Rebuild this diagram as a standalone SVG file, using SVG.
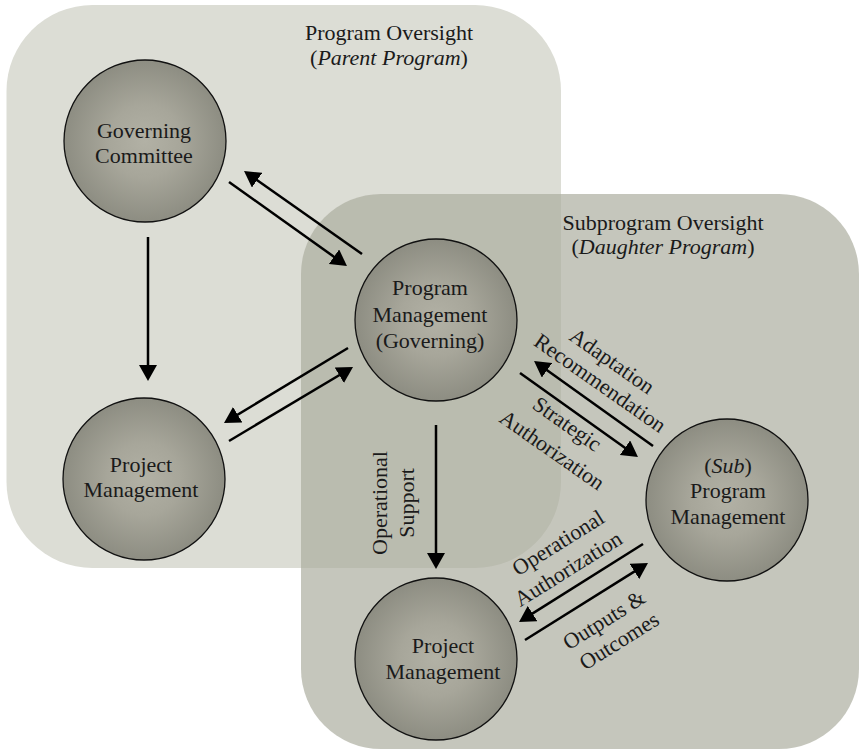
<svg xmlns="http://www.w3.org/2000/svg" width="861" height="752" viewBox="0 0 861 752">
  <style>
    .region-parent { fill: #dcddd5; }
    .region-child { fill: #abac9e; fill-opacity: 0.69; }
    .node { fill: url(#nodeShade); stroke: #111; stroke-width: 1.3; }
    .lbl { font-family: "Liberation Serif", "Times New Roman", serif; font-size: 22px; fill: #1a1a1a; text-anchor: middle; }
    .it { font-style: italic; }
    .conn line { stroke: #000; stroke-width: 2.5; marker-end: url(#head); }
  </style>
  <defs>
    <radialGradient id="nodeShade" cx="50%" cy="50%" r="50%">
      <stop offset="0" stop-color="#b2b1a5"/>
      <stop offset="0.45" stop-color="#a7a69a"/>
      <stop offset="1" stop-color="#8d8d82"/>
    </radialGradient>
    <marker id="head" markerUnits="userSpaceOnUse" viewBox="0 0 16 18" markerWidth="16" markerHeight="18" refX="12" refY="9" orient="auto">
      <path d="M0,0 L16,9 L0,18 Z" fill="#000"/>
    </marker>
  </defs>

  <!-- oversight regions -->
  <g id="parent-program">
    <rect class="region-parent" x="6.5" y="5" width="554.5" height="563" rx="86" ry="86"/>
    <text class="lbl" x="389" y="40">Program Oversight</text>
    <text class="lbl" x="389" y="65">(<tspan class="it">Parent Program</tspan>)</text>
  </g>
  <g id="daughter-program">
    <rect class="region-child" x="301" y="194" width="558" height="555" rx="80" ry="80"/>
    <text class="lbl" x="663" y="230">Subprogram Oversight</text>
    <text class="lbl" x="663" y="254">(<tspan class="it">Daughter Program</tspan>)</text>
  </g>

  <!-- connectors -->
  <g id="connectors" class="conn">
    <line x1="148" y1="237" x2="148" y2="377"/>
    <line x1="436" y1="425" x2="436" y2="565"/>
    <line x1="229" y1="182" x2="343.7" y2="263.7"/>
    <line x1="362" y1="254" x2="247.3" y2="173.3"/>
    <line x1="348" y1="348" x2="227.4" y2="420.9"/>
    <line x1="229" y1="441" x2="349.6" y2="369"/>
    <line x1="653" y1="446" x2="537.3" y2="363.3"/>
    <line x1="520" y1="373" x2="634.7" y2="454.7"/>
    <line x1="643" y1="544" x2="522.4" y2="619.9"/>
    <line x1="525" y1="640" x2="644.6" y2="565.1"/>
  </g>

  <!-- connector labels -->
  <g id="connector-labels">
    <g transform="translate(387,503) rotate(-90)">
      <text class="lbl" x="0" y="0">Operational</text>
      <text class="lbl" x="0" y="27">Support</text>
    </g>
    <text class="lbl" transform="translate(608,367) rotate(35)">Adaptation</text>
    <text class="lbl" transform="translate(596,389) rotate(35)">Recommendation</text>
    <text class="lbl" transform="translate(563,430) rotate(35)">Strategic</text>
    <text class="lbl" transform="translate(548,456) rotate(35)">Authorization</text>
    <text class="lbl" transform="translate(562,549) rotate(-32)">Operational</text>
    <text class="lbl" transform="translate(572,575) rotate(-32)">Authorization</text>
    <text class="lbl" transform="translate(608,626) rotate(-32)">Outputs &amp;</text>
    <text class="lbl" transform="translate(623,647) rotate(-32)">Outcomes</text>
  </g>

  <!-- nodes -->
  <g id="governing-committee">
    <circle class="node" cx="145" cy="141" r="81"/>
    <text class="lbl" x="144" y="138">Governing</text>
    <text class="lbl" x="144" y="163">Committee</text>
  </g>
  <g id="project-management-parent">
    <circle class="node" cx="144" cy="479" r="81"/>
    <text class="lbl" x="141" y="472">Project</text>
    <text class="lbl" x="141" y="497">Management</text>
  </g>
  <g id="program-management-governing">
    <circle class="node" cx="436" cy="320" r="81"/>
    <text class="lbl" x="430" y="295">Program</text>
    <text class="lbl" x="430" y="322">Management</text>
    <text class="lbl" x="430" y="348">(Governing)</text>
  </g>
  <g id="sub-program-management">
    <circle class="node" cx="727" cy="500" r="81"/>
    <text class="lbl" x="728" y="473">(<tspan class="it">Sub</tspan>)</text>
    <text class="lbl" x="728" y="498">Program</text>
    <text class="lbl" x="728" y="524">Management</text>
  </g>
  <g id="project-management-daughter">
    <circle class="node" cx="436" cy="659" r="81"/>
    <text class="lbl" x="443" y="653">Project</text>
    <text class="lbl" x="443" y="679">Management</text>
  </g>
</svg>
